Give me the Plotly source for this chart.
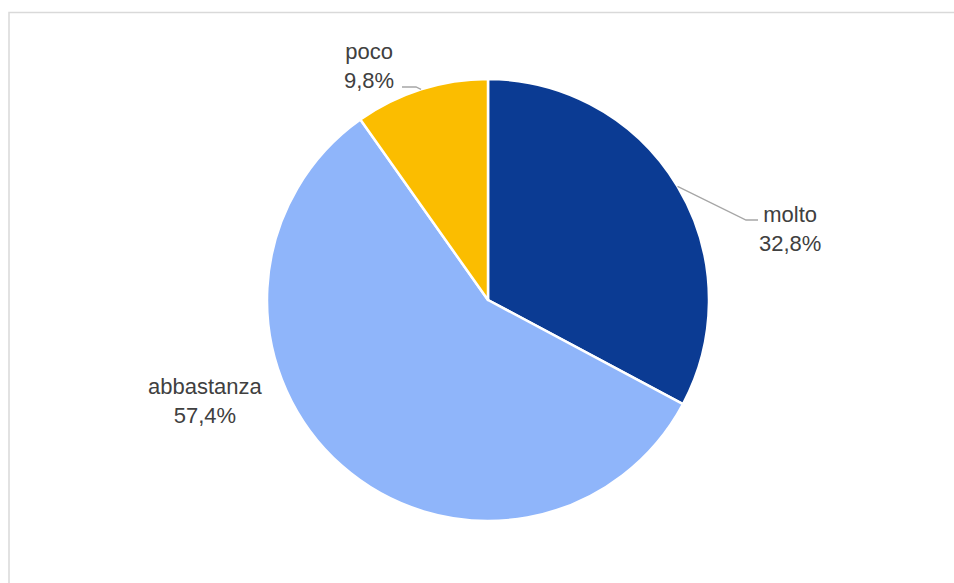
import math
import plotly.graph_objects as go

# Share of answers per category
categories = ["molto", "abbastanza", "poco"]
shares = [32.8, 57.4, 9.8]
colors = ["#0B3B93", "#8FB5FA", "#FBBD00"]

W, H = 954, 583
CX, CY, R = 488, 300, 221  # pie centre and radius in pixels


def px(x):
    return x / W


def py(y):
    return 1 - y / H


def fmt(v):
    return f"{v:.1f}".replace(".", ",") + "%"


fig = go.Figure(
    go.Pie(
        labels=categories,
        values=shares,
        sort=False,
        direction="clockwise",
        rotation=0,
        textinfo="none",
        hoverinfo="label+percent",
        marker=dict(colors=colors, line=dict(color="#FFFFFF", width=2.5)),
        domain=dict(x=[px(CX - R), px(CX + R)], y=[py(CY + R), py(CY - R)]),
        showlegend=False,
    )
)

# Centre of each two-line label block (pixels)
label_pos = {
    "molto": (790, 229),
    "abbastanza": (205, 401),
    "poco": (369, 66),
}
# Leader-line elbows after the point on the slice edge
leader = {
    "molto": [(746, 220), (758, 220)],
    "poco": [(416, 87), (402, 87)],
}

label_font = dict(family="Liberation Sans, Arial", size=22, color="#404040")

annotations = []
shapes = []
cum = 0.0
total = sum(shares)
for cat, v in zip(categories, shares):
    mid = (cum + v / 2) / total * 2 * math.pi
    cum += v
    ex = CX + R * math.sin(mid)
    ey = CY - R * math.cos(mid)
    lx, ly = label_pos[cat]
    annotations.append(
        dict(
            x=px(lx), y=py(ly), xref="paper", yref="paper",
            text=f"{cat}<br>{fmt(v)}", showarrow=False, font=label_font,
            align="center", xanchor="center", yanchor="middle",
        )
    )
    if cat in leader:
        pts = [(ex, ey)] + leader[cat]
        path = "M " + " L ".join(f"{px(x)},{py(y)}" for x, y in pts)
        shapes.append(
            dict(type="path", path=path, xref="paper", yref="paper",
                 line=dict(color="#A6A6A6", width=1.3))
        )

# Chart area frame
shapes.append(
    dict(type="rect", xref="paper", yref="paper",
         x0=px(9), x1=px(W + 20), y0=py(H + 20), y1=py(12.5),
         line=dict(color="#D9D9D9", width=1.5), fillcolor="rgba(0,0,0,0)",
         layer="below")
)

fig.update_layout(
    width=W, height=H,
    margin=dict(l=0, r=0, t=0, b=0),
    paper_bgcolor="#FFFFFF",
    plot_bgcolor="#FFFFFF",
    annotations=annotations,
    shapes=shapes,
)

fig.write_html("out.html")
